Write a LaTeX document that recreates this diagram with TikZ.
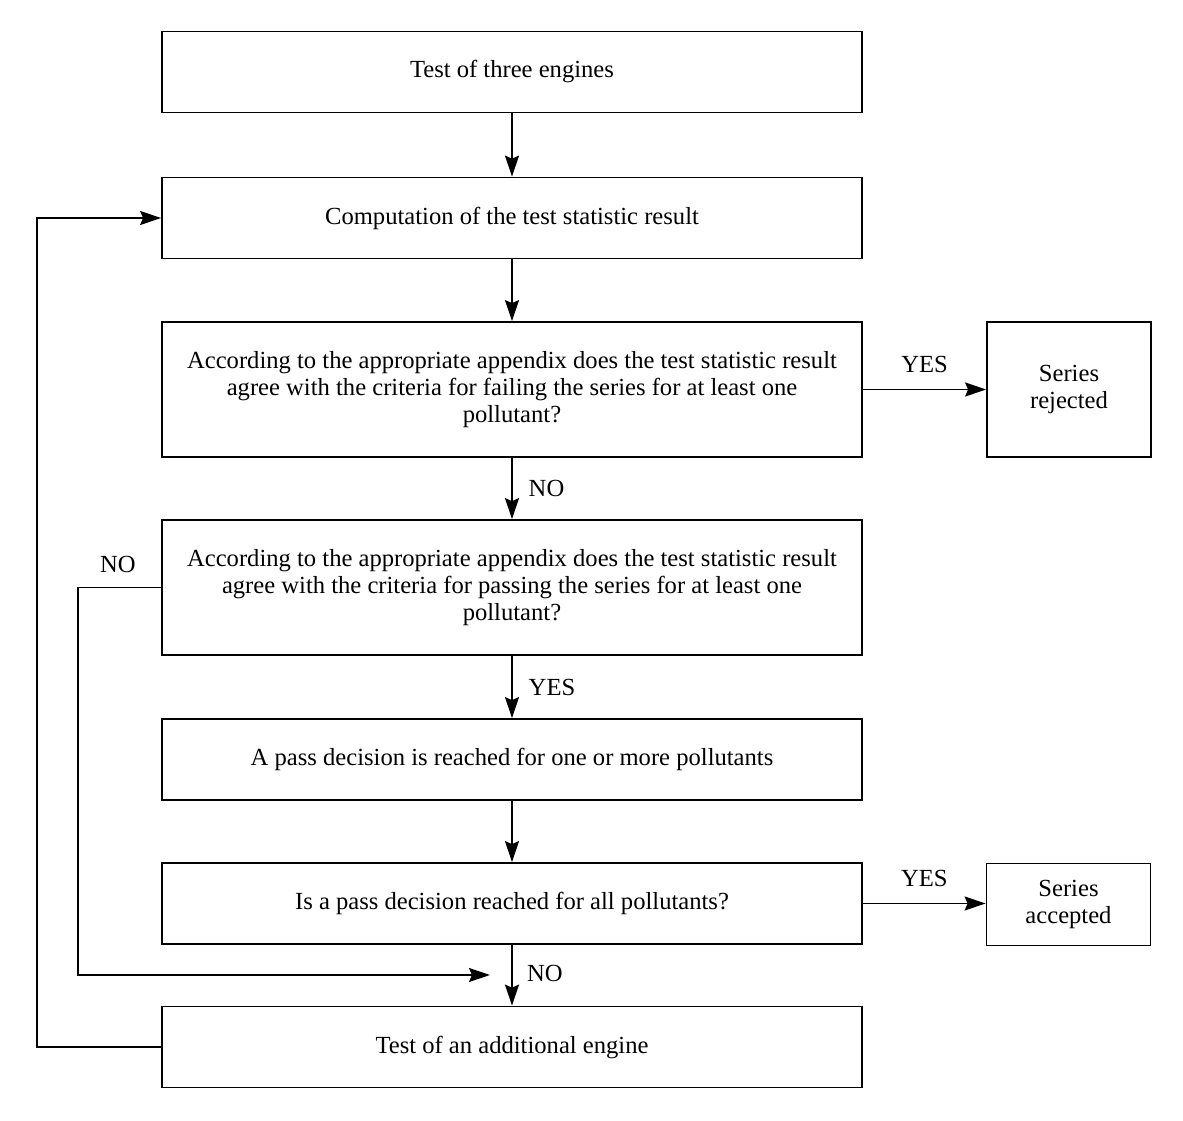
\documentclass[tikz,border=0pt]{standalone}
\usepackage{fontspec}
\setmainfont{Liberation Serif}
\usetikzlibrary{arrows.meta}

\begin{document}
\begin{tikzpicture}[
  line width=1pt,
  >={Stealth[length=4.2mm,width=2.8mm,inset=0.6mm]},
  box/.style={draw, minimum width=14cm, minimum height=1.62cm, align=center,
    font=\fontsize{14}{15.5}\selectfont},
  tallbox/.style={box, minimum height=2.7cm},
  endbox/.style={draw, minimum width=3.28cm, align=center,
    font=\fontsize{14}{15.5}\selectfont},
  lbl/.style={font=\fontsize{14}{15.5}\selectfont}
]

\useasboundingbox (0,0) rectangle (23.66,22.42);

% main column
\node[box] (engines) at (10.24,20.98) {Test of three engines};
\node[box] (compute) at (10.24,18.06) {Computation of the test statistic result};
\node[tallbox] (fail) at (10.24,14.63) {According to the appropriate appendix does the test statistic result\\
  agree with the criteria for failing the series for at least one\\ pollutant?};
\node[tallbox] (pass) at (10.24,10.67) {According to the appropriate appendix does the test statistic result\\
  agree with the criteria for passing the series for at least one\\ pollutant?};
\node[box] (some) at (10.24,7.23) {A pass decision is reached for one or more pollutants};
\node[box] (all) at (10.24,4.35) {Is a pass decision reached for all pollutants?};
\node[box] (extra) at (10.24,1.48) {Test of an additional engine};

% outcomes
\node[endbox, minimum height=2.7cm] (rejected) at (21.38,14.63) {Series\\ rejected};
\node[endbox, minimum height=1.64cm] (accepted) at (21.37,4.33) {Series\\ accepted};

\coordinate (loopin) at (9.8,2.92);

\draw[->] (engines) -- (compute);
\draw[->] (compute) -- (fail);
\draw[->] (fail) -- node[lbl, right, xshift=2mm] {NO} (pass);
\draw[->] (pass) -- node[lbl, right, xshift=2mm] {YES} (some);
\draw[->] (some) -- (all);
\draw[->] (all) -- (extra);
\node[lbl] at (10.9,2.96) {NO};

\draw[->] (fail) -- node[lbl, above=2mm] {YES} (rejected);
\draw[->] (all.east) -- node[lbl, above=2mm] {YES} (all.east -| accepted.west);

% loops back
\draw[->] (extra.west) -- (0.74,1.48) |- (compute.west);
\draw[->] (pass.west) -- (1.56,10.67) |- (loopin);
\node[lbl] at (2.36,11.14) {NO};

\end{tikzpicture}
\end{document}
